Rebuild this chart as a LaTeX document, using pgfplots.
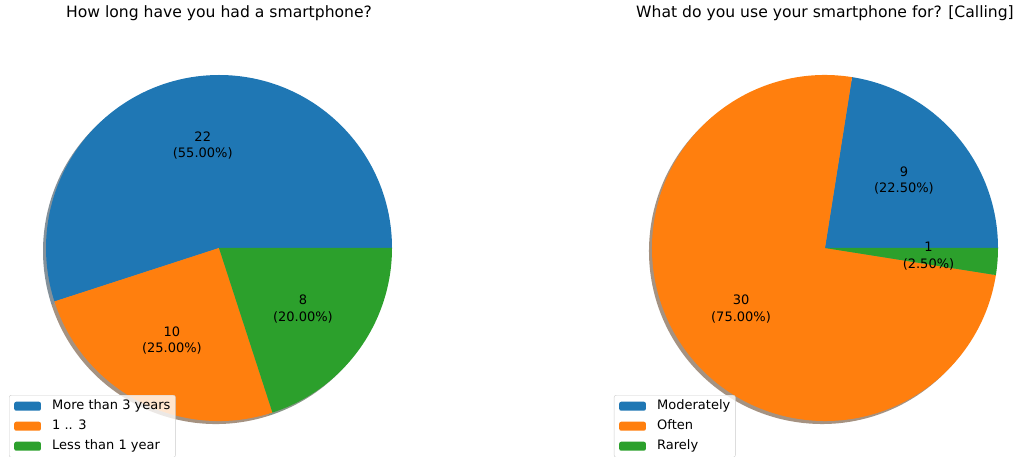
\documentclass[border=0pt]{standalone}
\usepackage{pgfplots}
\usepackage{pgfplotstable}
\pgfplotsset{compat=1.18}
\usepackage{fontspec}
\setmainfont{DejaVu Sans}
\definecolor{c1}{HTML}{1F77B4}
\definecolor{c2}{HTML}{FF7F0E}
\definecolor{c3}{HTML}{2CA02C}
\newcommand{\lblfont}{\fontsize{13bp}{16.5bp}\selectfont}
\newcommand{\ttlfont}{\fontsize{15.6bp}{18bp}\selectfont}
\pgfkeys{/pgf/number format/assume math mode=true}

\pgfplotstableread{
value color
22 c1
10 c2
8 c3
}\tableA
\pgfplotstableread{
value color
9 c1
30 c2
1 c3
}\tableB

\newcommand{\drawpie}[1]{%
  \pgfplotstablegetrowsof{#1}%
  \pgfmathtruncatemacro\pielast{\pgfplotsretval-1}%
  \gdef\pietotal{0}%
  \foreach \i in {0,...,\pielast}{%
    \pgfplotstablegetelem{\i}{value}\of{#1}%
    \pgfmathsetmacro\tmp{\pietotal+\pgfplotsretval}%
    \xdef\pietotal{\tmp}%
  }%
  \foreach \pass in {0,1,2}{%
    \gdef\piestart{0}%
    \foreach \i in {0,...,\pielast}{%
      \pgfplotstablegetelem{\i}{value}\of{#1}\let\pv\pgfplotsretval
      \pgfplotstablegetelem{\i}{color}\of{#1}\let\pc\pgfplotsretval
      \pgfmathsetmacro\pieend{\piestart+360*\pv/\pietotal}%
      \ifnum\pass=0
        \colorlet{wc}{\pc!30!black}%
        \fill[fill=wc, fill opacity=0.5, shift={(-3bp,-3bp)}] (axis cs:0,0) -- ([shift={(\piestart:173bp)}]axis cs:0,0) arc[start angle=\piestart, end angle=\pieend, radius=173bp] -- cycle;
      \fi
      \ifnum\pass=1
        \fill[fill=\pc] (axis cs:0,0) -- ([shift={(\piestart:173bp)}]axis cs:0,0) arc[start angle=\piestart, end angle=\pieend, radius=173bp] -- cycle;
      \fi
      \ifnum\pass=2
        \pgfmathsetmacro\pmid{(\piestart+\pieend)/2}%
        \pgfmathsetmacro\ppct{100*\pv/\pietotal}%
        \node[font=\lblfont, align=center, text=black, inner sep=0pt] at ([shift={(\pmid:103.8bp)}]axis cs:0,0) {\pv\\(\pgfmathprintnumber[fixed,fixed zerofill,precision=2]{\ppct}\%)};
      \fi
      \xdef\piestart{\pieend}%
    }%
  }%
}

\pgfplotsset{
  pieaxis/.style={
    hide axis, scale only axis, width=432.5bp, height=432.5bp,
    xmin=-1.25, xmax=1.25, ymin=-1.25, ymax=1.25,
    anchor=origin,
    title style={font=\ttlfont, at={(0.5,1)}, anchor=base, yshift=8.35bp, inner sep=0pt},
    legend cell align=left,
    legend style={font=\lblfont, draw=black!20, fill=white, fill opacity=0.8, text opacity=1, draw opacity=1,
      rounded corners=2bp, anchor=north west, inner xsep=5bp, inner ysep=5bp, row sep=8bp,
      nodes={inner sep=0pt, text height=9.5bp, text depth=2.5bp},
      /tikz/every odd column/.append style={column sep=11.3bp}},
  },
  mypatch/.style={legend image code/.code={\fill[##1, fill opacity=1, draw=none] (0bp,-4.5bp) rectangle (26.7bp,4.5bp);}},
}

\begin{document}
\begin{tikzpicture}
\useasboundingbox (0,0) rectangle (1020bp,457bp);
\clip (0,0) rectangle (1020bp,457bp);
\begin{axis}[pieaxis, at={(219bp,209bp)}, title={How long have you had a smartphone?},
  legend style={at={(0.0145,0.160)}}]
  \pgfplotsextra{\drawpie{\tableA}}
  \addlegendimage{mypatch, fill=c1, draw=none}\addlegendentry{More than 3 years}
  \addlegendimage{mypatch, fill=c2, draw=none}\addlegendentry{1 .. 3}
  \addlegendimage{mypatch, fill=c3, draw=none}\addlegendentry{Less than 1 year}
\end{axis}
\begin{axis}[pieaxis, at={(825bp,209bp)}, title={What do you use your smartphone for? [Calling]},
  legend style={at={(0.0121,0.160)}}]
  \pgfplotsextra{\drawpie{\tableB}}
  \addlegendimage{mypatch, fill=c1, draw=none}\addlegendentry{Moderately}
  \addlegendimage{mypatch, fill=c2, draw=none}\addlegendentry{Often}
  \addlegendimage{mypatch, fill=c3, draw=none}\addlegendentry{Rarely}
\end{axis}
\end{tikzpicture}
\end{document}
